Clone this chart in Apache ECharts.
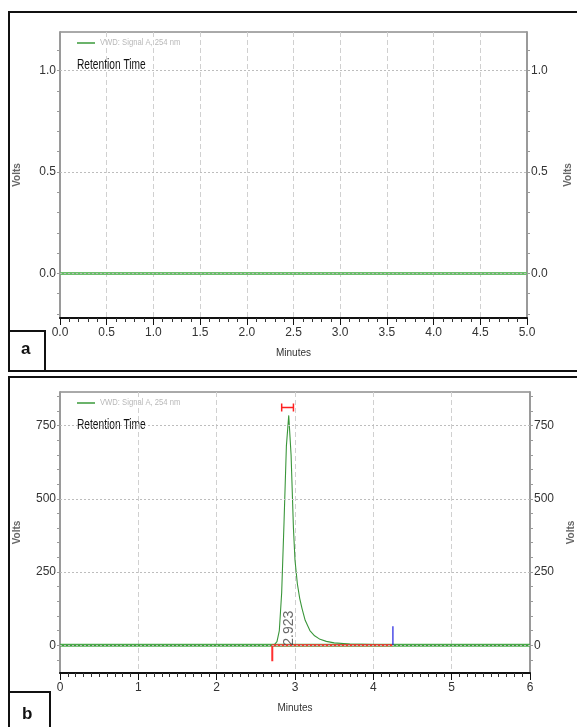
<!DOCTYPE html>
<html><head><meta charset="utf-8">
<script src="https://cdn.jsdelivr.net/npm/echarts@6/dist/echarts.min.js"></script>
<style>html,body{margin:0;padding:0;background:#fff}#c{width:577px;height:727px}</style>
</head><body><div id="c"></div>
<script>
const NARROW = '"Liberation Sans Narrow","Arial Narrow","Liberation Sans",sans-serif';
const SANS = '"Liberation Sans","DejaVu Sans",sans-serif';

// ---- Panel a (blank run) ----
const timeA = [0, 5];
const signalA = [0, 0];
const yLabelsA = [0, 0.5, 1.0];
const yTicksA = [-0.2, -0.1, 0, 0.1, 0.2, 0.3, 0.4, 0.5, 0.6, 0.7, 0.8, 0.9, 1.0, 1.1];
const yRangeA = [-0.22, 1.19];

// ---- Panel b (sample run) ----
const timeB =   [0, 2.70, 2.74, 2.77, 2.80, 2.83, 2.86, 2.89, 2.92, 2.95, 2.98, 3.00, 3.03, 3.06, 3.09, 3.13, 3.19, 3.25, 3.32, 3.40, 3.50, 3.70, 4.00, 4.30, 6.00];
const signalB = [0, 0,    3,    12,   50,   180,  420,  680,  785,  650,  400,  290,  210,  160,  125,  85,   50,   32,   20,   13,   8,    4,    2,    0,    0];
const yLabelsB = [0, 250, 500, 750];
const yTicksB = [-50, 0, 50, 100, 150, 200, 250, 300, 350, 400, 450, 500, 550, 600, 650, 700, 750, 800, 850];
const yRangeB = [-95, 865];
const peakRT = 2.923;
const integStart = 2.71, integEnd = 4.25;
const integDrop = -55, endMark = 65;
const widthBar = [2.83, 2.98], widthBarLevel = 812, widthCap = 14;
const rtLabelLevel = 58;

const zip = (a, b) => a.map((v, i) => [v, b[i]]);

function yAxes(gridIdx, range, ticks, labels, fmt) {
  const common = {
    type: 'value', gridIndex: gridIdx, min: range[0], max: range[1],
    axisLine: { show: true, lineStyle: { color: '#9a9a9a', width: 2 } },
    axisTick: { show: true, customValues: ticks, length: 3, lineStyle: { color: '#9a9a9a' } },
    axisLabel: { customValues: labels, formatter: fmt, color: '#333', fontFamily: NARROW, fontSize: 12, margin: 4 },
    splitLine: { show: false },
    name: 'Volts', nameLocation: 'middle', nameRotate: 90,
    nameTextStyle: { fontFamily: SANS, fontSize: 10, color: '#666', fontWeight: 'bold' }
  };
  return [
    Object.assign({}, common, { position: 'left', nameGap: 38 }),
    Object.assign({}, common, { position: 'right', nameGap: 36 })
  ];
}

function xAxis(gridIdx, max, interval, split, fmt) {
  return {
    type: 'value', gridIndex: gridIdx, min: 0, max: max, interval: interval, position: 'bottom',
    axisLine: { show: true, onZero: false, lineStyle: { color: '#111', width: 2 } },
    axisTick: { show: true, length: 7, lineStyle: { color: '#111' } },
    minorTick: { show: true, splitNumber: split, length: 4, lineStyle: { color: '#333' } },
    axisLabel: { formatter: fmt, color: '#333', fontFamily: NARROW, fontSize: 12, margin: 9 },
    splitLine: { show: true, lineStyle: { color: '#d0d0d0', type: [5, 3], width: 1 } },
    name: 'Minutes', nameLocation: 'middle', nameGap: 30,
    nameTextStyle: { fontFamily: NARROW, fontSize: 10, color: '#333' }
  };
}

function gridLines(vals) {
  return {
    silent: true, symbol: 'none', label: { show: false },
    lineStyle: { color: '#bdbdbd', type: [2, 2], width: 1 },
    data: vals.map(v => ({ yAxis: v }))
  };
}

const ya = yAxes(0, yRangeA, yTicksA, yLabelsA, v => v.toFixed(1));
const yb = yAxes(1, yRangeB, yTicksB, yLabelsB, v => String(v));

function legendGraphics(top) {
  return [
    { type: 'line', shape: { x1: 77, y1: top, x2: 95, y2: top }, style: { stroke: '#3a9a3a', lineWidth: 1.5 } },
    { type: 'text', x: 100, y: top - 5, scaleX: 0.85, style: { text: 'VWD: Signal A, 254 nm', fill: '#b8b8b8', font: '9px ' + SANS } },
    { type: 'text', x: 77, y: top + 14, scaleX: 0.68, style: { text: 'Retention Time', fill: '#111', font: '15px ' + SANS } }
  ];
}

const option = {
  animation: false,
  grid: [
    { left: 60, right: 50, top: 32, height: 286, show: true, borderColor: '#555', borderWidth: 1, outerBoundsMode: 'none', containLabel: false },
    { left: 60, right: 47, top: 392, height: 281, show: true, borderColor: '#555', borderWidth: 1, outerBoundsMode: 'none', containLabel: false }
  ],
  xAxis: [
    xAxis(0, 5, 0.5, 5, v => v.toFixed(1)),
    xAxis(1, 6, 1, 10, v => String(v))
  ],
  yAxis: [ya[0], ya[1], yb[0], yb[1]],
  series: [
    { type: 'line', xAxisIndex: 0, yAxisIndex: 0, data: zip(timeA, signalA), symbol: 'none',
      lineStyle: { color: '#6cbf6c', width: 3 }, markLine: gridLines(yLabelsA), z: 3 },
    { type: 'line', xAxisIndex: 1, yAxisIndex: 2, data: [[0, 0], [6, 0]], symbol: 'none',
      lineStyle: { color: '#4fb04f', width: 3 }, markLine: gridLines(yLabelsB), z: 2 },
    { type: 'line', xAxisIndex: 1, yAxisIndex: 2, data: zip(timeB, signalB), symbol: 'none',
      lineStyle: { color: '#3a963a', width: 1.1 }, z: 3 },
    { type: 'line', xAxisIndex: 1, yAxisIndex: 2,
      data: [[integStart, integDrop], [integStart, 0], [integEnd, 0]], symbol: 'none',
      lineStyle: { color: '#ff3030', width: 2 }, z: 4 },
    { type: 'line', xAxisIndex: 1, yAxisIndex: 2,
      data: [[integEnd, 0], [integEnd, endMark]], symbol: 'none',
      lineStyle: { color: '#2020e0', width: 1.2 }, z: 4 },
    { type: 'line', xAxisIndex: 1, yAxisIndex: 2, connectNulls: false,
      data: [[widthBar[0], widthBarLevel - widthCap], [widthBar[0], widthBarLevel + widthCap], '-',
             [widthBar[0], widthBarLevel], [widthBar[1], widthBarLevel], '-',
             [widthBar[1], widthBarLevel - widthCap], [widthBar[1], widthBarLevel + widthCap]],
      symbol: 'none', lineStyle: { color: '#ff2020', width: 1.5 }, z: 4 },
    { type: 'scatter', xAxisIndex: 1, yAxisIndex: 2, data: [[peakRT, rtLabelLevel]], symbolSize: 0,
      label: { show: true, position: 'inside', rotate: 90, formatter: String(peakRT),
               color: '#444', fontFamily: SANS, fontSize: 14 }, z: 5 }
  ],
  graphic: [
    { type: 'rect', shape: { x: 9, y: 12, width: 580, height: 359 }, style: { fill: 'none', stroke: '#111', lineWidth: 2 } },
    { type: 'rect', shape: { x: 9, y: 377, width: 580, height: 360 }, style: { fill: 'none', stroke: '#111', lineWidth: 2 } },
    { type: 'rect', shape: { x: 9, y: 331, width: 36, height: 40 }, style: { fill: '#fff', stroke: '#111', lineWidth: 2 } },
    { type: 'text', left: 21, top: 341, style: { text: 'a', fill: '#111', font: 'bold 17px ' + SANS } },
    { type: 'rect', shape: { x: 9, y: 692, width: 41, height: 45 }, style: { fill: '#fff', stroke: '#111', lineWidth: 2 } },
    { type: 'text', left: 22, top: 706, style: { text: 'b', fill: '#111', font: 'bold 17px ' + SANS } }
  ].concat(legendGraphics(43), legendGraphics(403))
};

echarts.init(document.getElementById('c'), null, { renderer: 'canvas' }).setOption(option);
</script></body></html>
